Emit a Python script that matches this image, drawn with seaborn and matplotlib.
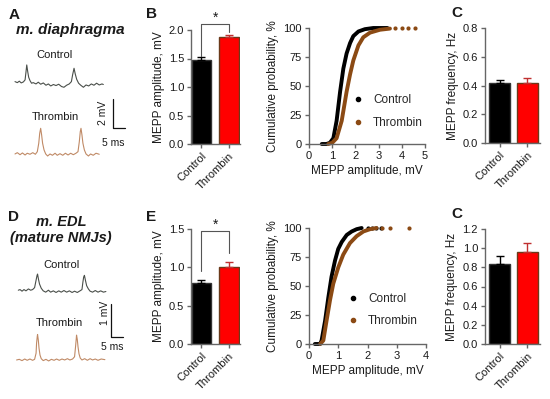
import numpy as np
import matplotlib
matplotlib.use("Agg")
import matplotlib.pyplot as plt
import seaborn as sns
from matplotlib.lines import Line2D

# -----------------------------
# DATA
# -----------------------------
groups = ["Control", "Thrombin"]

# B / E : MEPP amplitude, mV (mean, SEM)
amp_dia_mean = [1.48, 1.87]
amp_dia_sem = [0.05, 0.05]
amp_edl_mean = [0.79, 1.01]
amp_edl_sem = [0.04, 0.06]

# C : MEPP frequency, Hz (mean, SEM)
freq_dia_mean = [0.42, 0.42]
freq_dia_sem = [0.02, 0.03]
freq_edl_mean = [0.84, 0.96]
freq_edl_sem = [0.08, 0.09]

# cumulative distributions (amplitude mV, cumulative %)
cdf_dia_ctrl_amp = [0.55, 0.75, 0.9, 1.05, 1.19, 1.34, 1.48, 1.62, 1.77, 1.91, 2.13, 2.41, 2.77, 3.1, 3.38]
cdf_dia_ctrl_pct = [0, 0, 1, 5, 20, 45, 65, 78, 87, 93, 97, 99, 100, 100, 100]
cdf_dia_thr_amp = [0.83, 1.0, 1.19, 1.41, 1.62, 1.77, 1.91, 2.13, 2.34, 2.63, 3.06, 3.49]
cdf_dia_thr_pct = [0, 1, 5, 20, 45, 60, 72, 85, 92, 96, 98.5, 99.5]
cdf_dia_thr_tail = [3.7, 4.0, 4.27, 4.57]

cdf_edl_ctrl_amp = [0.2, 0.38, 0.43, 0.55, 0.66, 0.77, 0.89, 1.0, 1.12, 1.29, 1.46, 1.63, 1.8]
cdf_edl_ctrl_pct = [0, 0, 3, 20, 40, 58, 72, 82, 88, 94, 97, 99, 100]
cdf_edl_ctrl_tail = [2.0, 2.15, 2.3, 2.45]
cdf_edl_thr_amp = [0.38, 0.49, 0.6, 0.72, 0.83, 1.0, 1.17, 1.4, 1.63, 1.86, 2.09, 2.31]
cdf_edl_thr_pct = [0, 3, 20, 38, 52, 66, 77, 87, 93, 97, 99, 100]
cdf_edl_thr_tail = [2.5, 2.77, 3.43]

# example traces (time ms, potential mV)
tr_dia_ctrl_t = [0, 0.97, 1.8, 2.6, 3.5, 4.2, 4.6, 4.9, 5.3, 5.7, 6.25, 6.9, 7.6, 8.75, 9.7,
                 10.7, 11.8, 12.9, 13.9, 14.9, 16.0, 17.1, 18.2, 19.4, 20.4, 21.5, 22.6, 23.5,
                 24.0, 24.6, 25.1, 25.7, 26.5, 27.4, 28.5, 29.6, 30.7, 31.8, 32.9, 34.0, 35.1,
                 36.25, 36.8]
tr_dia_ctrl_v = [0.02, -0.05, 0.05, -0.07, 0.0, 0.14, 0.71, 1.17, 0.71, 0.32, 0.09, -0.09,
                 -0.05, -0.14, -0.02, -0.16, -0.07, -0.23, -0.14, -0.28, -0.18, -0.25, -0.16,
                 -0.32, -0.37, -0.23, -0.14, 0.02, 0.48, 0.94, 0.55, 0.18, -0.09, -0.23, -0.37,
                 -0.21, -0.28, -0.14, -0.23, -0.09, -0.21, -0.14, -0.18]
tr_dia_thr_t = [0, 0.97, 2.1, 3.1, 4.2, 5.1, 6.25, 7.4, 8.5, 9.3, 9.9, 10.3, 10.7, 11.1, 11.5,
                12.1, 12.8, 13.6, 14.6, 15.6, 16.7, 17.6, 18.75, 19.9, 21.0, 22.1, 23.2, 24.3,
                25.4, 26.25, 26.8, 27.2, 27.5, 27.9, 28.3, 28.9, 29.6, 30.6, 31.5, 32.6, 33.75,
                35.1]
tr_dia_thr_v = [0, 0.09, -0.05, 0.07, -0.07, 0.05, -0.02, 0.09, -0.02, 0.16, 0.74, 1.43, 1.77,
                1.31, 0.74, 0.28, 0, -0.14, 0, -0.09, 0.05, -0.09, 0.02, -0.09, 0.05, -0.07,
                0.05, -0.05, 0.05, 0.16, 0.85, 1.54, 1.77, 1.31, 0.74, 0.28, 0, -0.14, 0, -0.09,
                0.05, -0.02]
tr_edl_ctrl_t = [0, 0.7, 1.5, 2.3, 3.1, 4.1, 5.0, 5.8, 6.6, 7.2, 7.6, 7.8, 8.2, 8.6, 9.3, 10.1,
                 11.1, 12.2, 13.1, 14.2, 15.3, 16.4, 17.4, 18.5, 19.6, 20.7, 21.8, 22.8, 23.9,
                 25.0, 25.8, 26.2, 26.5, 26.8, 27.2, 27.7, 28.4, 29.1, 30.1, 31.2, 32.3, 33.4,
                 34.5, 35.5]
tr_edl_ctrl_v = [0.02, 0.04, -0.01, 0.04, 0, 0.06, 0.02, 0.04, 0.10, 0.33, 0.48, 0.52, 0.35,
                 0.21, 0.08, 0, -0.04, 0.02, -0.04, 0, -0.05, 0, -0.04, 0.01, -0.04, 0, -0.05,
                 -0.01, -0.05, 0, 0.04, 0.28, 0.43, 0.48, 0.33, 0.16, 0.06, -0.01, -0.04, 0.01,
                 -0.04, 0, -0.04, -0.02]
tr_edl_thr_t = [-0.7, 0.4, 1.5, 2.6, 3.6, 4.7, 5.8, 6.6, 7.2, 7.4, 7.7, 7.8, 8.1, 8.4, 8.8, 9.3,
                10.1, 11.2, 12.3, 13.4, 14.5, 15.5, 16.6, 17.7, 18.8, 19.9, 20.9, 22.0, 22.8,
                23.2, 23.5, 23.6, 23.9, 24.2, 24.6, 25.1, 25.8, 26.9, 28.0, 29.1, 30.1, 31.2,
                32.3, 33.6, 35.1]
tr_edl_thr_v = [0, 0.02, -0.02, 0.03, -0.01, 0.03, -0.01, 0.02, 0.21, 0.52, 0.74, 0.79, 0.62,
                0.36, 0.15, 0.04, -0.02, 0.02, -0.03, 0.02, -0.01, 0.03, -0.01, 0.03, 0, 0.04, 0,
                0.03, 0.10, 0.41, 0.67, 0.77, 0.64, 0.41, 0.19, 0.06, 0, 0.04, -0.01, 0.04, 0,
                0.03, -0.01, 0.03, 0.01]

# -----------------------------
# STYLE
# -----------------------------
sns.set_style("ticks")
plt.rcParams["font.family"] = ["Liberation Sans", "DejaVu Sans"]

W, H = 550, 399
fig = plt.figure(figsize=(W / 100, H / 100), dpi=100)

AX_COLOR = "#666666"
TXT = "#1a1a1a"
bar_colors = ["#000000", "#ff0000"]
bar_edges = ["#333333", "#6b3a1a"]
err_colors = ["#000000", "#c03030"]
cdf_colors = ["#000000", "#8b4a14"]
trace_colors = ["#4a4f4a", "#c08a66"]


def px_axes(left, top, right, bottom):
    return fig.add_axes([left / W, 1 - bottom / H, (right - left) / W, (bottom - top) / H])


def ftext(x, y, s, **kw):
    fig.text(x / W, 1 - y / H, s, color=TXT, **kw)


def style(ax):
    sns.despine(ax=ax)
    for s in ("left", "bottom"):
        ax.spines[s].set_color(AX_COLOR)
        ax.spines[s].set_linewidth(1.0)
    ax.tick_params(colors=AX_COLOR, labelcolor=TXT, labelsize=8, length=3, width=1, pad=2)


def bar_panel(ax, means, sems, ymax, step, ylabel, xlim, width):
    sns.barplot(x=groups, y=means, hue=groups, palette=bar_colors, width=width,
                saturation=1, errorbar=None, legend=False, ax=ax)
    for p, ec in zip(ax.patches, bar_edges):
        p.set_edgecolor(ec)
        p.set_linewidth(1)
    for i, (m, s, c) in enumerate(zip(means, sems, err_colors)):
        ax.errorbar(i, m, yerr=[[0], [s]], fmt="none", ecolor=c, elinewidth=1,
                    capsize=3, capthick=1, zorder=5)
    ax.set_ylim(0, ymax)
    ax.set_yticks(np.arange(0, ymax + 1e-9, step))
    ax.yaxis.set_major_formatter("{x:.1f}")
    ax.set_xlim(*xlim)
    ax.set_xticks([0, 1])
    ax.set_xticklabels(groups, rotation=45, ha="right", rotation_mode="anchor")
    ax.set_ylabel(ylabel, fontsize=8.5, labelpad=3, color=TXT)
    ax.set_xlabel("")
    style(ax)


def bracket(ax, y_top, y_left, y_right):
    ax.plot([0, 0, 1, 1], [y_left, y_top, y_top, y_right], color="#555555", lw=0.8,
            clip_on=False)
    ax.text(0.5, y_top, "*", ha="center", va="bottom", fontsize=10, color=TXT)


def cdf_panel(ax, ctrl_amp, ctrl_pct, thr_amp, thr_pct, ctrl_tail, thr_tail, xmax, leg_anchor, spacing):
    for amp, pct, c in ((ctrl_amp, ctrl_pct, cdf_colors[0]), (thr_amp, thr_pct, cdf_colors[1])):
        sns.lineplot(x=amp, y=pct, color=c, linewidth=2.8, estimator=None, sort=False,
                     ax=ax, clip_on=False, solid_capstyle="round", solid_joinstyle="round")
    for tail, c in ((ctrl_tail, cdf_colors[0]), (thr_tail, cdf_colors[1])):
        if tail:
            sns.scatterplot(x=tail, y=[100] * len(tail), color=c, s=9, linewidth=0, ax=ax,
                            clip_on=False)
    ax.set_xlim(0, xmax)
    ax.set_ylim(0, 100)
    ax.set_xticks(range(0, xmax + 1))
    ax.set_yticks([0, 25, 50, 75, 100])
    ax.set_xlabel("MEPP amplitude, mV", fontsize=8.5, labelpad=3, color=TXT)
    ax.set_ylabel("Cumulative probability, %", fontsize=8.5, labelpad=3, color=TXT)
    handles = [Line2D([], [], marker="o", ls="", color=c, markersize=3) for c in cdf_colors]
    ax.legend(handles, groups, loc="upper left", bbox_to_anchor=leg_anchor, frameon=False,
              fontsize=8.5, handlelength=1, handletextpad=0.8, labelspacing=spacing,
              borderaxespad=0, borderpad=0)
    style(ax)


def trace_panel(ax, ctrl_t, ctrl_v, thr_t, thr_v, ctrl_offset, xlim, ylim, sbar):
    sns.lineplot(x=ctrl_t, y=np.array(ctrl_v) + ctrl_offset, color=trace_colors[0], lw=0.8,
                 estimator=None, sort=False, ax=ax)
    sns.lineplot(x=thr_t, y=thr_v, color=trace_colors[1], lw=0.8, estimator=None, sort=False,
                 ax=ax)
    t0, v0, dt, dv = sbar
    ax.plot([t0, t0, t0 + dt], [v0 + dv, v0, v0], color="#111111", lw=0.9)
    ax.set_xlim(*xlim)
    ax.set_ylim(*ylim)
    ax.axis("off")


# -----------------------------
# TOP ROW : m. diaphragma
# -----------------------------
ax_a = px_axes(10, 40, 135, 175)
trace_panel(ax_a, tr_dia_ctrl_t, tr_dia_ctrl_v, tr_dia_thr_t, tr_dia_thr_v, 4.97,
            (-2.08, 50), (-1.45, 7.86), (40.97, 1.77, 5, 2))

ax_b = px_axes(191, 30, 240, 144)
bar_panel(ax_b, amp_dia_mean, amp_dia_sem, 2.0, 0.5, "MEPP amplitude, mV", (-0.38, 1.4), 0.7)
bracket(ax_b, 2.1, 1.55, 1.96)

ax_bc = px_axes(309, 28, 425, 144)
cdf_panel(ax_bc, cdf_dia_ctrl_amp, cdf_dia_ctrl_pct, cdf_dia_thr_amp, cdf_dia_thr_pct,
          [], cdf_dia_thr_tail, 5, (0.37, 0.43), 0.9)

ax_c = px_axes(485, 28, 540, 143)
bar_panel(ax_c, freq_dia_mean, freq_dia_sem, 0.8, 0.2, "MEPP frequency, Hz", (-0.52, 1.45), 0.75)

# -----------------------------
# BOTTOM ROW : m. EDL
# -----------------------------
ax_d = px_axes(10, 245, 135, 380)
trace_panel(ax_d, tr_edl_ctrl_t, tr_edl_ctrl_v, tr_edl_thr_t, tr_edl_thr_v, 2.14,
            (-3.37, 47.3), (-0.62, 3.56), (37.6, 0.72, 5, 1))

ax_e = px_axes(191, 229, 240, 344)
bar_panel(ax_e, amp_edl_mean, amp_edl_sem, 1.5, 0.5, "MEPP amplitude, mV", (-0.38, 1.4), 0.7)
bracket(ax_e, 1.47, 0.95, 1.19)

ax_ec = px_axes(309, 228, 426, 344)
cdf_panel(ax_ec, cdf_edl_ctrl_amp, cdf_edl_ctrl_pct, cdf_edl_thr_amp, cdf_edl_thr_pct,
          cdf_edl_ctrl_tail, cdf_edl_thr_tail, 4, (0.325, 0.44), 0.86)

ax_f = px_axes(485, 229, 540, 344)
bar_panel(ax_f, freq_edl_mean, freq_edl_sem, 1.2, 0.2, "MEPP frequency, Hz", (-0.52, 1.45), 0.75)

# -----------------------------
# TEXT
# -----------------------------
for x, y, s in ((9, 15, "A"), (146, 14, "B"), (451, 13, "C"),
                (8, 217, "D"), (146, 217, "E"), (451, 214, "C")):
    ftext(x, y, s, fontsize=11, fontweight="bold", ha="left", va="center")

ftext(70, 30, "m. diaphragma", fontsize=11, fontweight="bold", style="italic", ha="center", va="center")
ftext(61, 222, "m. EDL", fontsize=10.5, fontweight="bold", style="italic", ha="center", va="center")
ftext(61, 238, "(mature NMJs)", fontsize=10.5, fontweight="bold", style="italic", ha="center", va="center")

ftext(54.5, 55, "Control", fontsize=8, ha="center", va="center")
ftext(55, 117, "Thrombin", fontsize=8, ha="center", va="center")
ftext(103.5, 113, "2 mV", fontsize=7.5, rotation=90, ha="center", va="center")
ftext(113, 143, "5 ms", fontsize=7.5, ha="center", va="center")

ftext(61, 265, "Control", fontsize=8, ha="center", va="center")
ftext(59, 323, "Thrombin", fontsize=8, ha="center", va="center")
ftext(104.5, 313, "1 mV", fontsize=7.5, rotation=90, ha="center", va="center")
ftext(112, 347, "5 ms", fontsize=7.5, ha="center", va="center")

fig.savefig("out.png", dpi=100)
